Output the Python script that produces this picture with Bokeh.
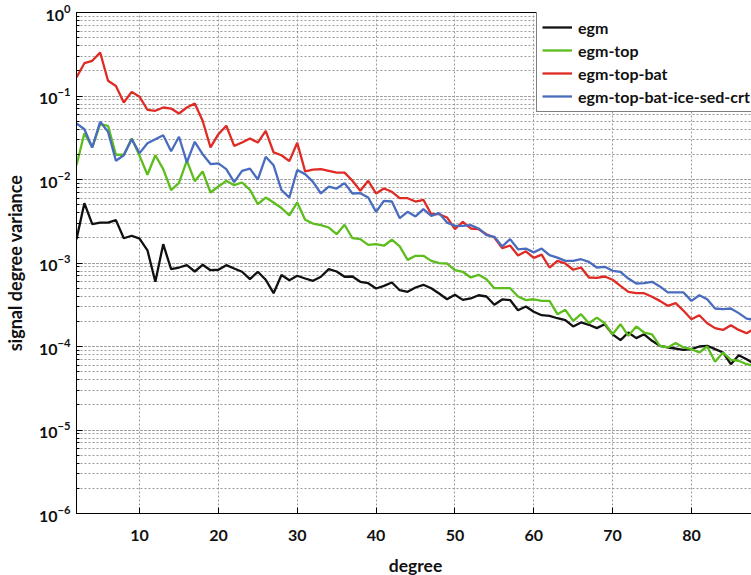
from bokeh.plotting import figure
from bokeh.models import Range1d, FixedTicker, LogTicker, Legend, LegendItem
from bokeh.embed import file_html
from bokeh.resources import INLINE

degree = list(range(2, 89))

egm = [1.93e-3, 5.20e-3, 2.92e-3, 3.05e-3, 3.05e-3, 3.26e-3, 1.98e-3, 2.12e-3, 1.96e-3, 1.42e-3,
       5.96e-4, 1.68e-3, 8.43e-4, 8.83e-4, 9.42e-4, 7.91e-4, 9.51e-4, 8.20e-4, 8.30e-4, 9.42e-4,
       8.59e-4, 7.85e-4, 6.40e-4, 7.85e-4, 6.30e-4, 4.35e-4, 7.18e-4, 6.21e-4, 7.03e-4, 6.52e-4,
       6.12e-4, 6.84e-4, 8.43e-4, 7.91e-4, 6.84e-4, 6.89e-4, 5.96e-4, 5.73e-4, 4.95e-4, 5.33e-4,
       5.84e-4, 4.72e-4, 4.52e-4, 5.09e-4, 5.48e-4, 4.99e-4, 4.31e-4, 3.68e-4, 4.16e-4, 3.62e-4,
       3.76e-4, 4.11e-4, 3.97e-4, 3.16e-4, 3.66e-4, 3.60e-4, 2.72e-4, 3.01e-4, 2.61e-4, 2.37e-4,
       2.33e-4, 2.18e-4, 2.07e-4, 1.74e-4, 1.94e-4, 1.82e-4, 1.66e-4, 1.85e-4, 1.40e-4, 1.19e-4,
       1.47e-4, 1.26e-4, 1.40e-4, 1.17e-4, 1.02e-4, 9.73e-5, 9.46e-5, 9.12e-5, 9.29e-5, 1.00e-4,
       1.02e-4, 9.29e-5, 8.48e-5, 6.14e-5, 7.87e-5, 7.05e-5, 6.14e-5]

egm_top = [1.48e-2, 3.58e-2, 2.42e-2, 4.59e-2, 4.40e-2, 1.98e-2, 1.98e-2, 3.10e-2, 1.92e-2, 1.14e-2,
           1.95e-2, 1.33e-2, 7.48e-3, 9.12e-3, 1.68e-2, 9.55e-3, 1.25e-2, 6.99e-3, 8.24e-3, 9.64e-3,
           8.55e-3, 9.20e-3, 7.53e-3, 5.06e-3, 6.08e-3, 5.31e-3, 4.56e-3, 3.71e-3, 5.31e-3, 3.29e-3,
           2.97e-3, 2.84e-3, 2.66e-3, 2.21e-3, 2.87e-3, 1.98e-3, 1.93e-3, 1.65e-3, 1.68e-3, 1.61e-3,
           1.90e-3, 1.58e-3, 1.09e-3, 1.22e-3, 1.22e-3, 1.06e-3, 9.95e-4, 9.86e-4, 8.20e-4, 7.85e-4,
           6.70e-4, 7.22e-4, 6.40e-4, 4.99e-4, 4.99e-4, 4.99e-4, 3.97e-4, 3.59e-4, 3.68e-4, 3.52e-4,
           3.52e-4, 2.44e-4, 2.75e-4, 2.03e-4, 2.44e-4, 1.90e-4, 2.22e-4, 1.90e-4, 1.40e-4, 1.85e-4,
           1.34e-4, 1.74e-4, 1.47e-4, 1.40e-4, 1.02e-4, 9.73e-5, 1.10e-4, 9.73e-5, 9.29e-5, 8.48e-5,
           1.00e-4, 6.56e-5, 8.48e-5, 6.93e-5, 6.75e-5, 6.14e-5, 5.87e-5]

egm_top_bat = [1.67e-1, 2.47e-1, 2.64e-1, 3.32e-1, 1.52e-1, 1.32e-1, 8.36e-2, 1.12e-1, 9.77e-2, 6.84e-2,
               6.65e-2, 7.28e-2, 7.08e-2, 6.17e-2, 7.28e-2, 8.13e-2, 5.05e-2, 2.42e-2, 3.49e-2, 4.40e-2,
               2.53e-2, 2.77e-2, 3.10e-2, 2.77e-2, 3.83e-2, 2.11e-2, 1.95e-2, 1.66e-2, 2.75e-2, 1.25e-2,
               1.31e-2, 1.33e-2, 1.27e-2, 1.21e-2, 1.21e-2, 9.64e-3, 7.32e-3, 9.64e-3, 6.80e-3, 7.80e-3,
               7.13e-3, 5.97e-3, 5.97e-3, 5.45e-3, 5.71e-3, 3.84e-3, 3.84e-3, 3.51e-3, 2.54e-3, 3.11e-3,
               2.59e-3, 2.54e-3, 2.21e-3, 2.02e-3, 1.51e-3, 1.62e-3, 1.23e-3, 1.38e-3, 1.15e-3, 1.26e-3,
               8.83e-4, 1.06e-3, 9.86e-4, 8.30e-4, 8.83e-4, 6.70e-4, 6.65e-4, 6.89e-4, 6.30e-4, 5.33e-4,
               4.52e-4, 4.35e-4, 4.35e-4, 3.94e-4, 3.52e-4, 3.07e-4, 3.30e-4, 2.68e-4, 2.12e-4, 2.37e-4,
               1.90e-4, 1.66e-4, 1.58e-4, 1.80e-4, 1.58e-4, 1.44e-4, 1.64e-4]

egm_top_bat_ice_sed_crt = [4.69e-2, 4.00e-2, 2.42e-2, 4.91e-2, 3.73e-2, 1.68e-2, 1.95e-2, 3.04e-2, 2.07e-2, 2.72e-2,
                           3.04e-2, 3.39e-2, 2.18e-2, 3.25e-2, 1.60e-2, 2.83e-2, 2.01e-2, 1.53e-2, 1.56e-2, 1.33e-2,
                           9.31e-3, 1.27e-2, 1.35e-2, 1.00e-2, 1.87e-2, 1.48e-2, 7.48e-3, 6.08e-3, 1.30e-2, 1.16e-2,
                           9.38e-3, 6.80e-3, 8.24e-3, 7.80e-3, 9.04e-3, 6.80e-3, 6.86e-3, 6.08e-3, 4.10e-3, 5.56e-3,
                           5.45e-3, 3.44e-3, 4.10e-3, 3.61e-3, 4.41e-3, 3.67e-3, 3.95e-3, 3.05e-3, 2.79e-3, 2.79e-3,
                           2.84e-3, 2.59e-3, 2.15e-3, 2.06e-3, 1.58e-3, 1.93e-3, 1.46e-3, 1.49e-3, 1.34e-3, 1.49e-3,
                           1.24e-3, 1.16e-3, 1.06e-3, 1.06e-3, 1.11e-3, 1.03e-3, 8.83e-4, 9.00e-4, 8.07e-4, 7.85e-4,
                           6.52e-4, 5.68e-4, 5.73e-4, 5.96e-4, 5.24e-4, 4.44e-4, 4.44e-4, 4.44e-4, 3.52e-4, 4.11e-4,
                           3.68e-4, 2.85e-4, 2.80e-4, 2.85e-4, 2.51e-4, 2.16e-4, 2.09e-4]

series_names = ["egm", "egm-top", "egm-top-bat", "egm-top-bat-ice-sed-crt"]
series_values = [egm, egm_top, egm_top_bat, egm_top_bat_ice_sed_crt]
series_colors = ["#111111", "#5cbd1c", "#e02a24", "#4a6cbf"]
x_ticks = [10, 20, 30, 40, 50, 60, 70, 80]

FONT = "Lato"

p = figure(frame_width=678, frame_height=501,
           min_border_left=65, min_border_top=12, min_border_right=0, min_border_bottom=54,
           y_axis_type="log", x_range=Range1d(2, 88), y_range=Range1d(1e-6, 1),
           output_backend="svg", toolbar_location=None,
           background_fill_color="white", border_fill_color="white")

p.outline_line_color = "black"
p.outline_line_width = 1

p.xaxis.ticker = FixedTicker(ticks=x_ticks)
p.yaxis.ticker = LogTicker(num_minor_ticks=10)

for ax in (p.xaxis[0], p.yaxis[0]):
    ax.axis_line_color = "black"
    ax.major_tick_in = 6
    ax.major_tick_out = 0
    ax.minor_tick_in = 3
    ax.minor_tick_out = 0
    ax.major_label_text_font = FONT
    ax.major_label_text_font_size = "16px"
    ax.major_label_text_font_style = "bold"
    ax.major_label_text_color = "#111111"
    ax.axis_label_text_font = FONT
    ax.axis_label_text_font_style = "bold"
    ax.axis_label_text_color = "#111111"

p.xaxis.axis_label = "degree"
p.yaxis.axis_label = "signal degree variance"
p.xaxis.axis_label_text_font_size = "17.5px"
p.yaxis.axis_label_text_font_size = "18px"
p.xaxis.major_label_standoff = 16
p.xaxis.axis_label_standoff = 11
p.yaxis.major_label_standoff = 6
p.yaxis.axis_label_standoff = 10

GRID = "#9a9a9a"
p.xgrid.grid_line_color = GRID
p.xgrid.grid_line_dash = "2 2"
p.xgrid.grid_line_width = 1
p.ygrid.grid_line_color = GRID
p.ygrid.grid_line_dash = "2 2"
p.ygrid.grid_line_width = 1
p.ygrid.minor_grid_line_color = GRID
p.ygrid.minor_grid_line_dash = "2 2"
p.ygrid.minor_grid_line_width = 1

items = []
for name, vals, col in zip(series_names, series_values, series_colors):
    r = p.line(degree, vals, line_color=col, line_width=2.3)
    items.append(LegendItem(label=name, renderers=[r]))

legend = Legend(items=items, location=(460, 401),
                border_line_color="black", border_line_width=1,
                background_fill_color="white", background_fill_alpha=1,
                label_text_font=FONT, label_text_font_size="16px",
                label_text_font_style="bold", label_text_color="#111111",
                glyph_width=30, glyph_height=20, label_height=20,
                label_standoff=6, spacing=3, padding=5, margin=0)
p.add_layout(legend)

open("out.html", "w").write(file_html(p, INLINE))
